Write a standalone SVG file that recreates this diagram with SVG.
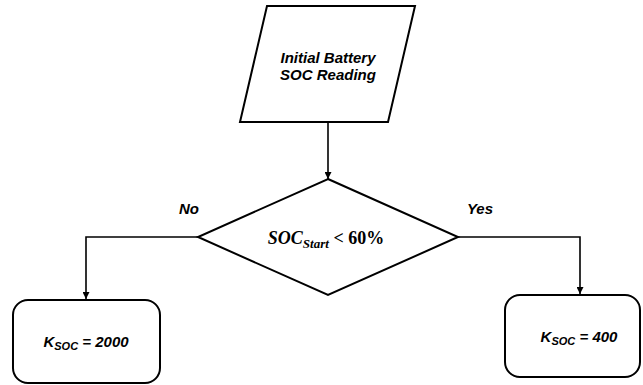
<svg xmlns="http://www.w3.org/2000/svg" width="643" height="385" viewBox="0 0 643 385">
<defs>
<style>
.shape{fill:#fff;stroke:#000;stroke-width:2}
.conn{fill:none;stroke:#000;stroke-width:1.6}
.lbl{font-family:"Liberation Sans",Arial,sans-serif;font-weight:bold;font-style:italic;font-size:15px;fill:#000}
.math{font-family:"Liberation Serif","DejaVu Serif",serif;font-weight:bold;font-size:18px;fill:#000}
</style>
<marker id="arr" viewBox="0 0 10 10" refX="10" refY="5" markerWidth="7" markerHeight="7" orient="auto" markerUnits="userSpaceOnUse">
<path d="M0,0 L10,5 L0,10 z" fill="#000"/>
</marker>
</defs>
<rect width="643" height="385" fill="#fff"/>
<g id="connectors">
<path class="conn" d="M328,122 V179" marker-end="url(#arr)"/>
<path class="conn" d="M198,237 H86 V299" marker-end="url(#arr)"/>
<path class="conn" d="M458,237 H580 V294" marker-end="url(#arr)"/>
<text class="lbl" x="189" y="214" text-anchor="middle">No</text>
<text class="lbl" x="480" y="214" text-anchor="middle">Yes</text>
</g>
<g id="input">
<polygon class="shape" points="267,6 415,6 388,122 240,122"/>
<text class="lbl" x="328" y="63" text-anchor="middle">Initial Battery</text>
<text class="lbl" x="328" y="80" text-anchor="middle">SOC Reading</text>
</g>
<g id="decision">
<polygon class="shape" points="328,179 458,237 328,295 198,237"/>
<text class="math" x="326" y="244" text-anchor="middle"><tspan font-style="italic">SOC</tspan><tspan font-style="italic" font-size="13" dy="4">Start</tspan><tspan dy="-4"> &lt; 60%</tspan></text>
</g>
<g id="k2000">
<rect class="shape" x="13" y="300" width="147" height="83" rx="15"/>
<text class="lbl" x="86" y="347" text-anchor="middle">K<tspan font-size="11" dy="3">SOC</tspan><tspan dy="-3"> = 2000</tspan></text>
</g>
<g id="k400">
<rect class="shape" x="505" y="295" width="135" height="82" rx="15"/>
<text class="lbl" x="579" y="342" text-anchor="middle">K<tspan font-size="11" dy="3">SOC</tspan><tspan dy="-3"> = 400</tspan></text>
</g>
</svg>
